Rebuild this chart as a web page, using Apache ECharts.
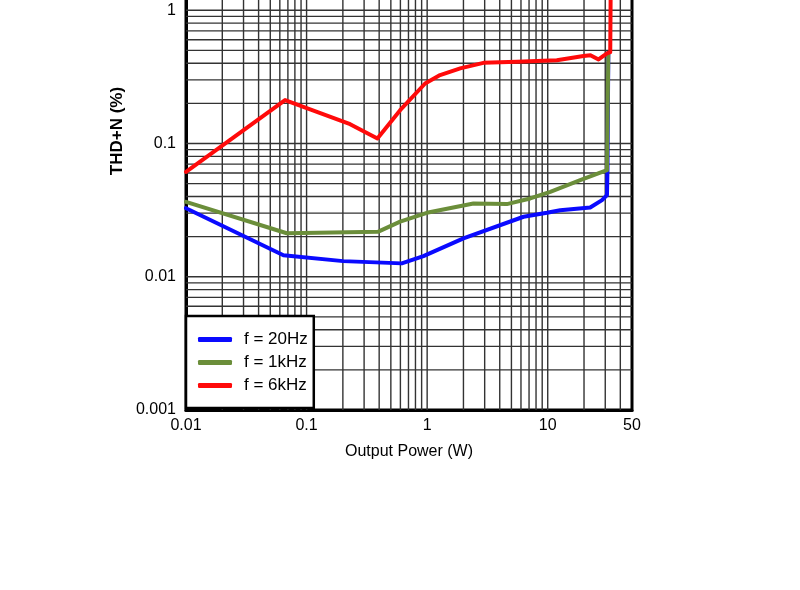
<!DOCTYPE html>
<html>
<head>
<meta charset="utf-8">
<script src="https://cdn.jsdelivr.net/npm/echarts@6/dist/echarts.min.js"></script>
<style>
  html, body { margin: 0; padding: 0; background: #ffffff; }
  #chart { width: 800px; height: 590px; }
</style>
</head>
<body>
<div id="chart"></div>
<script>
// ---- Data ----
const seriesNames = ['f = 20Hz', 'f = 1kHz', 'f = 6kHz'];

const power20Hz = [0.01, 0.0643, 0.201, 0.616, 0.931, 2.0, 6.3, 9.85, 12.7, 22.5, 28.2, 31.0, 31.3, 31.8];
const thd20Hz   = [0.0327, 0.0145, 0.0131, 0.0126, 0.0143, 0.0194, 0.0282, 0.0302, 0.0316, 0.0331, 0.0376, 0.041, 0.065, 0.48];

const power1kHz = [0.01, 0.0685, 0.394, 0.597, 0.994, 2.42, 4.58, 7.16, 10.5, 18.6, 31.0, 31.8];
const thd1kHz   = [0.0365, 0.0212, 0.0218, 0.0259, 0.0302, 0.0355, 0.0351, 0.0387, 0.0434, 0.0531, 0.063, 0.476];

const power6kHz = [0.01, 0.0663, 0.2297, 0.387, 0.597, 0.962, 1.28, 1.88, 2.93, 5.55, 11.9, 19.8, 22.6, 26.4, 31.0, 33.0, 33.6];
const thd6kHz   = [0.0613, 0.212, 0.1397, 0.109, 0.178, 0.282, 0.326, 0.366, 0.403, 0.41, 0.422, 0.453, 0.46, 0.427, 0.474, 0.485, 5];

// grid line positions (axis values)
const xGridValues = [0.02,0.03,0.04,0.05,0.06,0.07,0.08,0.09,0.1,
                     0.2,0.3,0.4,0.5,0.6,0.7,0.8,0.9,1,
                     2,3,4,5,6,7,8,9,10,
                     20,30,40];
const yGridValues = [0.002,0.003,0.004,0.005,0.006,0.007,0.008,0.009,0.01,
                     0.02,0.03,0.04,0.05,0.06,0.07,0.08,0.09,0.1,
                     0.2,0.3,0.4,0.5,0.6,0.7,0.8,0.9,1,
                     2,3,4,5,6,7,8,9];

const xMin = 0.01, xMax = 50, yMin = 0.001, yMax = 10;

const colors = ['#0a0aff', '#6b8e3a', '#ff0a0a'];
const FONT = '"Liberation Sans", Arial, sans-serif';

function zip(a, b) { return a.map((v, i) => [v, b[i]]); }
function fmt(v) { return String(Number(Number(v).toPrecision(3))); }

const chart = echarts.init(document.getElementById('chart'), null, { renderer: 'canvas' });

const gridLineStyle = { stroke: '#333333', lineWidth: 1.4 };

chart.setOption({
  animation: false,
  backgroundColor: '#ffffff',
  grid: {
    left: 186, right: 168, top: -123, bottom: 180,
    containLabel: false,
    outerBoundsMode: 'none',
    show: true, borderColor: '#000', borderWidth: 3, backgroundColor: 'transparent'
  },
  xAxis: {
    type: 'log', logBase: 10, min: xMin, max: xMax,
    name: 'Output Power (W)', nameLocation: 'middle', nameGap: 34,
    nameTextStyle: { fontFamily: FONT, fontSize: 16, color: '#000' },
    axisLine: { show: true, lineStyle: { color: '#000', width: 3 } },
    axisTick: { show: false },
    splitLine: { show: false },
    axisLabel: { formatter: fmt, fontFamily: FONT, fontSize: 16, color: '#000', margin: 8, showMaxLabel: true, showMinLabel: true }
  },
  yAxis: {
    type: 'log', logBase: 10, min: yMin, max: yMax,
    axisLine: { show: true, lineStyle: { color: '#000', width: 3 } },
    axisTick: { show: false },
    splitLine: { show: false },
    axisLabel: { formatter: fmt, fontFamily: FONT, fontSize: 16, color: '#000', margin: 10 }
  },
  legend: {
    data: seriesNames,
    orient: 'vertical',
    left: 186, top: 316,
    padding: [15, 6, 14, 12],
    itemGap: 6,
    itemWidth: 34, itemHeight: 5,
    icon: 'roundRect',
    backgroundColor: '#ffffff',
    borderColor: '#000', borderWidth: 2.5, borderRadius: 0,
    textStyle: { fontFamily: FONT, fontSize: 17, lineHeight: 17, color: '#000', padding: [0, 0, 0, 7] }
  },
  graphic: [{
    type: 'text', x: 117, y: 131, rotation: Math.PI / 2,
    style: { text: 'THD+N (%)', font: 'bold 17px ' + FONT, fill: '#000', textAlign: 'center', textVerticalAlign: 'middle' }
  }],
  series: [
    {
      name: 'xgrid', type: 'custom', z: 1, silent: true, clip: true,
      data: xGridValues.map(v => [v, yMin]),
      encode: { x: 0, y: 1 },
      renderItem: function (params, api) {
        const v = api.value(0);
        const p1 = api.coord([v, yMin]);
        const p2 = api.coord([v, yMax]);
        return { type: 'line', shape: { x1: p1[0], y1: p1[1], x2: p2[0], y2: p2[1] }, style: gridLineStyle };
      }
    },
    {
      name: 'ygrid', type: 'custom', z: 1, silent: true, clip: true,
      data: yGridValues.map(v => [xMin, v]),
      encode: { x: 0, y: 1 },
      renderItem: function (params, api) {
        const v = api.value(1);
        const p1 = api.coord([xMin, v]);
        const p2 = api.coord([xMax, v]);
        return { type: 'line', shape: { x1: p1[0], y1: p1[1], x2: p2[0], y2: p2[1] }, style: gridLineStyle };
      }
    },
    {
      name: seriesNames[0], type: 'line', z: 3, symbol: 'none', smooth: false,
      data: zip(power20Hz, thd20Hz), color: colors[0],
      lineStyle: { color: colors[0], width: 4, cap: 'round', join: 'round' }
    },
    {
      name: seriesNames[1], type: 'line', z: 4, symbol: 'none', smooth: false,
      data: zip(power1kHz, thd1kHz), color: colors[1],
      lineStyle: { color: colors[1], width: 4, cap: 'round', join: 'round' }
    },
    {
      name: seriesNames[2], type: 'line', z: 5, symbol: 'none', smooth: false,
      data: zip(power6kHz, thd6kHz), color: colors[2],
      lineStyle: { color: colors[2], width: 4, cap: 'round', join: 'round' }
    }
  ]
});
</script>
</body>
</html>
